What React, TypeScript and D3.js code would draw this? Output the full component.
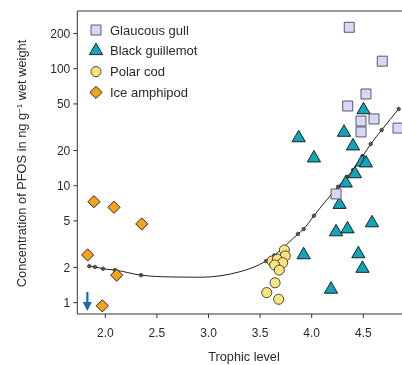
import * as d3 from 'd3';

// Glaucous gull
const gullTL = [4.364, 4.684, 4.526, 4.349, 4.604, 4.478, 4.836, 4.478, 4.236];
const gullPFOS = [226, 116, 60.8, 48, 37.2, 35.7, 31.1, 28.8, 8.5];

// Black guillemot
const guilTL = [4.502, 4.313, 3.874, 4.4, 4.022, 4.487, 4.526, 4.419, 4.33, 4.27, 4.236, 4.347, 4.584, 3.922, 4.452, 4.492, 4.187];
const guilPFOS = [44.4, 28.5, 25.6, 21.8, 17.2, 15.9, 15.6, 12.6, 10.5, 6.9, 4.02, 4.26, 4.8, 2.56, 2.61, 1.96, 1.3];

// Polar cod
const codTL = [3.735, 3.744, 3.615, 3.667, 3.719, 3.641, 3.686, 3.645, 3.564, 3.68];
const codPFOS = [2.82, 2.51, 2.27, 2.35, 2.2, 2.1, 1.9, 1.48, 1.22, 1.07];

// Ice amphipod
const ampTL = [1.89, 2.084, 2.353, 1.829, 2.11, 1.971];
const ampPFOS = [7.3, 6.54, 4.71, 2.56, 1.72, 0.94];

// amphipod below detection limit
const bdlTL = [1.826];

const fitTL = [1.845, 1.9, 1.978, 2.094, 2.346, 2.627, 2.918, 3.305, 3.557, 3.638, 3.867, 3.922, 4.022, 4.255, 4.342, 4.4, 4.494, 4.572, 4.678, 4.843];
const fitPFOS = [2.05, 2.02, 1.95, 1.9, 1.72, 1.66, 1.65, 1.84, 2.27, 2.54, 3.87, 4.26, 5.54, 9.8, 11.9, 13.6, 17.9, 22.7, 29.9, 45.3];
const fitDot = [1, 1, 1, 1, 1, 0, 0, 0, 1, 1, 1, 1, 1, 1, 1, 1, 1, 1, 1, 1];

const xTicks = [2.0, 2.5, 3.0, 3.5, 4.0, 4.5];
const yTicks = [1, 2, 5, 10, 20, 50, 100, 200];

const legendNames = ['Glaucous gull', 'Black guillemot', 'Polar cod', 'Ice amphipod'];

const W = 402;
const H = 365;
const left = 77.3, top = 11, bottom = 314;
const font = 'Liberation Sans, Arial, sans-serif';
const ink = '#2a2a2a';

const x = d3.scaleLinear().domain([2.0, 4.5]).range([105.3, 363.3]);
const y = d3.scaleLog().domain([1, 100]).range([302.7, 68.7]);

const sq = d3.symbol(d3.symbolSquare, 100)();
const tri = d3.symbol(d3.symbolTriangle, 76)();
const circ = d3.symbol(d3.symbolCircle, 80)();
const dia = d3.symbol(d3.symbolSquare, 74)();

const styles = [
  { path: sq, fill: '#d8d8f6', stroke: '#4a4a5a', rot: 0 },
  { path: tri, fill: '#12a4b9', stroke: '#111', rot: 0 },
  { path: circ, fill: '#fde47f', stroke: '#333', rot: 0 },
  { path: dia, fill: '#f8a21e', stroke: '#222', rot: 45 },
];

export default function App() {
  const line = d3.line<number>()
    .x((d) => x(fitTL[d]))
    .y((d) => y(fitPFOS[d]))
    .curve(d3.curveMonotoneX);

  const mark = (xs: number[], ys: number[], s: number) =>
    xs.map((v, i) => (
      <path
        key={`${s}-${i}`}
        d={styles[s].path}
        transform={`translate(${x(v)},${y(ys[i])}) rotate(${styles[s].rot})`}
        fill={styles[s].fill}
        stroke={styles[s].stroke}
        strokeWidth={0.9}
      />
    ));

  return (
    <div style={{ position: 'fixed', left: 0, top: 0 }}>
      <svg width={W} height={H} style={{ display: 'block' }}>
        <defs>
          <clipPath id="plot">
            <rect x={left} y={top} width={W - left + 10} height={bottom - top} />
          </clipPath>
        </defs>

        {/* frame */}
        <line x1={left} x2={W} y1={top} y2={top} stroke="#333" />
        <line x1={left} x2={W} y1={bottom} y2={bottom} stroke="#333" />
        <line x1={left} x2={left} y1={top} y2={bottom} stroke="#333" />

        {/* y axis */}
        {yTicks.map((t) => (
          <g key={t}>
            <line x1={left - 4} x2={left} y1={y(t)} y2={y(t)} stroke="#333" />
            <text x={left - 7} y={y(t)} dy="0.35em" textAnchor="end" fontSize={12} fontFamily={font} fill={ink}>
              {t}
            </text>
          </g>
        ))}

        {/* x axis */}
        {xTicks.map((t) => (
          <g key={t}>
            <line x1={x(t)} x2={x(t)} y1={bottom} y2={bottom + 4} stroke="#333" />
            <text x={x(t)} y={333} dy="0.35em" textAnchor="middle" fontSize={12} fontFamily={font} fill={ink}>
              {t.toFixed(1)}
            </text>
          </g>
        ))}

        <text x={244} y={357} dy="0.35em" textAnchor="middle" fontSize={12.7} fontFamily={font} fill={ink}>
          Trophic level
        </text>
        <text
          transform={`translate(22,${(top + bottom) / 2 + 1}) rotate(-90)`}
          dy="0.35em"
          textAnchor="middle"
          fontSize={12.8}
          fontFamily={font}
          fill={ink}
        >
          Concentration of PFOS in ng g<tspan dy="-4.5" fontSize={8}>−1</tspan>
          <tspan dy="4.5"> wet weight</tspan>
        </text>

        <g clipPath="url(#plot)">
          {/* fitted curve */}
          <path d={line(d3.range(fitTL.length)) ?? ''} fill="none" stroke="#222" strokeWidth={1} />
          {fitTL.map((v, i) =>
            fitDot[i] ? (
              <circle key={`f${i}`} cx={x(v)} cy={y(fitPFOS[i])} r={1.8} fill="#555" stroke="#222" strokeWidth={0.6} />
            ) : null
          )}

          {mark(codTL, codPFOS, 2)}
          {mark(ampTL, ampPFOS, 3)}
          {mark(guilTL, guilPFOS, 1)}
          {mark(gullTL, gullPFOS, 0)}

          {/* below detection arrow */}
          {bdlTL.map((v, i) => (
            <g key={`b${i}`} fill="#1a68b3" stroke="#1a68b3">
              <line x1={x(v)} x2={x(v)} y1={292} y2={303} strokeWidth={2.2} />
              <path d={`M${x(v) - 4.5},${302} L${x(v) + 4.5},${302} L${x(v)},${311} Z`} stroke="none" />
            </g>
          ))}
        </g>

        {/* legend */}
        {legendNames.map((n, i) => (
          <g key={n} transform={`translate(96,${30 + i * 20.8})`}>
            <path
              d={styles[i].path}
              transform={`rotate(${styles[i].rot})`}
              fill={styles[i].fill}
              stroke={styles[i].stroke}
              strokeWidth={0.9}
            />
            <text x={14} dy="0.35em" fontSize={13} fontFamily={font} fill={ink}>
              {n}
            </text>
          </g>
        ))}
      </svg>
    </div>
  );
}
